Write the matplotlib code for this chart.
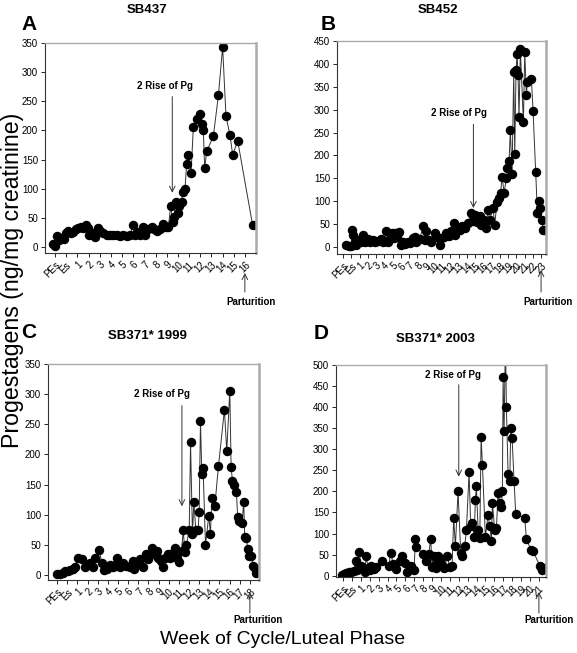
import matplotlib
matplotlib.use("Agg")
import matplotlib.pyplot as plt

plt.rcParams["font.family"] = ["Liberation Sans", "DejaVu Sans"]

# week positions (PEs = -1, Es = 0, week k = k) and progestagen values (ng/mg creatinine)
a_week = [-1.21, -1.0, -0.79, -0.61, -0.40, -0.19, -0.01, 0.19, 0.40, 0.64, 0.88, 1.09, 1.30, 1.54,
          1.78, 1.99, 2.07, 2.28, 2.58, 2.82, 3.03, 3.33, 3.63, 3.93, 4.22, 4.52, 4.82, 5.12, 5.42,
          5.72, 5.96, 6.16, 6.37, 6.61, 6.85, 7.06, 7.36, 7.66, 7.87, 8.10, 8.40, 8.70, 8.91, 9.15,
          9.36, 9.54, 9.66, 9.84, 9.99, 10.13, 10.34, 10.43, 10.64, 10.79, 10.94, 11.18, 11.39, 11.69,
          11.99, 12.13, 12.28, 12.40, 12.58, 13.18, 13.63, 14.01, 14.31, 14.67, 14.91, 15.36, 16.70]
a_val = [5, 2, 18, 12, 15, 14, 24, 28, 24, 26, 30, 32, 35, 32, 37, 32, 21, 24, 17, 32, 27, 24, 21,
         21, 20, 21, 18, 21, 18, 20, 37, 21, 26, 21, 35, 21, 30, 35, 30, 28, 30, 40, 35, 35, 70, 43,
         52, 78, 58, 70, 78, 95, 100, 143, 158, 127, 206, 220, 228, 211, 201, 135, 164, 190, 260,
         343, 224, 192, 158, 182, 37]

b_week = [-0.60, -0.31, 0.01, 0.13, 0.25, 0.41, 0.62, 0.90, 1.22, 1.42, 1.71, 2.03, 2.23, 2.64, 2.92,
          3.24, 3.57, 3.85, 4.05, 4.25, 4.45, 4.78, 4.94, 5.18, 5.34, 5.59, 5.79, 5.99, 6.27, 6.56,
          6.88, 7.16, 7.48, 7.69, 7.89, 8.29, 8.70, 8.90, 9.10, 9.38, 9.71, 10.11, 10.31, 10.72, 10.92,
          11.24, 11.53, 11.81, 12.13, 12.41, 12.62, 12.86, 13.14, 13.42, 13.75, 14.15, 14.47, 14.76,
          14.96, 15.28, 15.57, 15.77, 16.09, 16.29, 16.58, 16.78, 17.18, 17.38, 17.67, 17.91, 18.11,
          18.27, 18.52, 18.80, 18.92, 19.12, 19.28, 19.48, 19.69, 19.81, 19.97, 20.09, 20.21, 20.33,
          20.49, 20.86, 21.02, 21.22, 21.34, 21.83, 22.03, 22.35, 22.56, 22.72, 22.92, 23.12, 23.24,
          23.44]
b_val = [5, 3, 2, 38, 27, 12, 5, 16, 10, 27, 12, 17, 10, 16, 12, 14, 17, 12, 14, 36, 11, 22, 30, 20,
         30, 22, 33, 5, 12, 7, 12, 9, 20, 22, 11, 17, 45, 16, 36, 16, 12, 30, 22, 5, 20, 22, 30, 23,
         34, 52, 27, 41, 38, 45, 41, 52, 74, 56, 70, 54, 67, 49, 60, 41, 81, 60, 85, 49, 99, 107, 119,
         154, 119, 150, 172, 187, 255, 159, 382, 203, 386, 422, 375, 284, 433, 272, 426, 332, 361,
         368, 297, 163, 74, 101, 85, 60, 38, 38]

c_week = [-0.97, -0.70, -0.44, -0.21, 0.05, 0.28, 0.54, 0.77, 1.03, 1.43, 1.75, 1.98, 2.25, 2.51,
          2.74, 3.16, 3.39, 3.66, 3.95, 4.21, 4.54, 4.70, 4.93, 5.20, 5.46, 5.79, 6.18, 6.44, 6.61,
          6.90, 7.16, 7.49, 7.72, 7.98, 8.31, 8.54, 8.80, 8.97, 9.20, 9.39, 9.62, 9.95, 10.11, 10.38,
          10.61, 10.77, 11.03, 11.26, 11.43, 11.59, 11.75, 12.02, 12.15, 12.34, 12.48, 12.67, 12.90,
          13.00, 13.13, 13.26, 13.39, 13.62, 13.95, 14.11, 14.25, 14.54, 14.90, 15.49, 15.72, 16.02,
          16.15, 16.28, 16.44, 16.67, 16.80, 16.93, 17.23, 17.39, 17.49, 17.66, 17.79, 17.92, 18.15,
          18.31, 18.48, 18.64]
c_val = [2, 1, 3, 7, 6, 9, 10, 14, 28, 27, 13, 17, 20, 13, 28, 42, 20, 8, 10, 17, 14, 17, 29, 14,
         20, 15, 14, 23, 10, 20, 27, 14, 34, 27, 45, 34, 40, 28, 23, 14, 28, 34, 28, 36, 45, 28, 22,
         40, 74, 38, 50, 75, 220, 68, 121, 75, 75, 105, 255, 168, 177, 50, 98, 68, 127, 114, 180,
         274, 205, 306, 179, 156, 149, 137, 96, 90, 86, 121, 63, 61, 43, 32, 31, 15, 11, 4]

d_week = [-1.11, -0.89, -0.63, -0.33, -0.06, 0.20, 0.42, 0.61, 0.84, 0.99, 1.25, 1.43, 1.62, 1.81,
          2.00, 2.18, 2.48, 2.75, 3.38, 4.13, 4.36, 4.62, 4.99, 5.37, 5.63, 5.93, 6.23, 6.60, 6.98,
          7.13, 7.24, 7.99, 8.36, 8.63, 8.85, 9.00, 9.19, 9.37, 9.49, 9.67, 9.94, 10.12, 10.35, 10.72,
          10.99, 11.25, 11.43, 11.62, 11.92, 12.22, 12.41, 12.67, 12.86, 13.16, 13.34, 13.53, 13.72,
          13.87, 13.98, 14.17, 14.36, 14.51, 14.66, 14.99, 15.29, 15.48, 15.67, 15.78, 16.04, 16.23,
          16.42, 16.60, 16.79, 16.90, 16.98, 17.09, 17.24, 17.35, 17.54, 17.73, 17.84, 17.99, 18.21,
          18.40, 19.41, 19.60, 20.09, 20.35, 21.10, 21.36, 21.66]
d_val = [2, 5, 6, 9, 10, 12, 34, 13, 56, 22, 18, 10, 47, 18, 13, 22, 16, 21, 34, 22, 55, 28, 16,
         34, 46, 30, 10, 22, 13, 87, 68, 51, 36, 51, 88, 21, 47, 26, 18, 47, 38, 26, 18, 46, 20, 22,
         137, 70, 200, 55, 46, 70, 109, 246, 117, 125, 92, 180, 212, 109, 89, 329, 262, 92, 145, 117,
         83, 172, 109, 113, 197, 172, 164, 202, 472, 344, 560, 401, 242, 225, 350, 326, 225, 146,
         137, 87, 62, 58, 24, 14, 18]

panels = [
    dict(letter="A", title="SB437", week=a_week, val=a_val, last=16, ylim=(-10.3, 350), ystep=50,
         xlim=(-1.9, 17.0), rect=[0.0780, 0.6126, 0.3657, 0.3216],
         rise_x=9.5, rise=(258, 93), rise_txt=(8.85, 276),
         part=(-0.095, -0.186, -0.233, 0.6), title_xy=(0.255, 0.984), letter_xy=(0.038, 0.962)),
    dict(letter="B", title="SB452", week=b_week, val=b_val, last=23, ylim=(-15.3, 450), ystep=50,
         xlim=(-1.73, 23.6), rect=[0.5841, 0.6110, 0.3622, 0.3262],
         rise_x=14.8, rise=(268, 85), rise_txt=(13.1, 293),
         part=(-0.075, -0.178, -0.225, 0.85), title_xy=(0.759, 0.984), letter_xy=(0.555, 0.962)),
    dict(letter="C", title="SB371* 1999", week=c_week, val=c_val, last=18, ylim=(-8.3, 350), ystep=50,
         xlim=(-1.9, 18.9), rect=[0.0832, 0.1118, 0.3657, 0.3308],
         rise_x=11.3, rise=(281, 114), rise_txt=(9.3, 300),
         part=(-0.056, -0.153, -0.186, 0.8), title_xy=(0.255, 0.485), letter_xy=(0.036, 0.491)),
    dict(letter="D", title="SB371* 2003", week=d_week, val=d_val, last=21, ylim=(-3, 500), ystep=50,
         xlim=(-1.79, 21.8), rect=[0.5823, 0.1164, 0.3640, 0.3247],
         rise_x=12.0, rise=(453, 235), rise_txt=(11.4, 476),
         part=(-0.071, -0.170, -0.203, 1.1), title_xy=(0.754, 0.481), letter_xy=(0.543, 0.489)),
]

fig = plt.figure(figsize=(5.77, 6.53), dpi=100)

for p in panels:
    ax = fig.add_axes(p["rect"])
    ax.plot(p["week"], p["val"], color="#333333", lw=0.7, marker="o", ms=5.8,
            mfc="black", mec="black")
    ax.set_xlim(*p["xlim"])
    ax.set_ylim(*p["ylim"])
    ticks = list(range(-1, p["last"] + 1))
    labels = ["PEs", "Es"] + [str(k) for k in range(1, p["last"] + 1)]
    ax.set_xticks(ticks)
    ax.set_xticklabels(labels, rotation=45, ha="right", rotation_mode="anchor", fontsize=7)
    ax.set_yticks(range(0, int(p["ylim"][1]) + 1, p["ystep"]))
    ax.tick_params(axis="y", labelsize=7, length=3, width=0.6, pad=2)
    ax.tick_params(axis="x", length=3, width=0.6, pad=2)
    for s in ("left", "bottom"):
        ax.spines[s].set_linewidth(0.8)
        ax.spines[s].set_color("#333333")
    ax.spines["top"].set_color("#aaaaaa")
    ax.spines["top"].set_linewidth(1.0)
    ax.spines["right"].set_color("#aaaaaa")
    ax.spines["right"].set_linewidth(1.8)

    # second rise of progestagens
    ax.annotate("", xy=(p["rise_x"], p["rise"][1]), xytext=(p["rise_x"], p["rise"][0]),
                arrowprops=dict(arrowstyle="->", color="#333333", lw=0.7, shrinkA=0, shrinkB=0))
    ax.text(p["rise_txt"][0], p["rise_txt"][1], "2 Rise of Pg", fontsize=7, fontweight="bold",
            ha="center", va="center")

    # parturition marker below the axis
    head, tail, ty, dx = p["part"]
    ax.annotate("", xy=(p["last"], head), xytext=(p["last"], tail),
                xycoords=("data", "axes fraction"), textcoords=("data", "axes fraction"),
                arrowprops=dict(arrowstyle="->", color="#333333", lw=0.7, shrinkA=0, shrinkB=0),
                annotation_clip=False)
    ax.text(p["last"] + dx, ty, "Parturition", transform=ax.get_xaxis_transform(),
            fontsize=7, fontweight="bold", ha="center", va="center", clip_on=False)

    fig.text(*p["title_xy"], p["title"], fontsize=9.5, fontweight="bold", ha="center", va="center")
    fig.text(*p["letter_xy"], p["letter"], fontsize=15, fontweight="bold", ha="left", va="center")

fig.text(0.022, 0.571, "Progestagens (ng/mg creatinine)", rotation=90, fontsize=16.7,
         ha="center", va="center")
fig.text(0.49, 0.021, "Week of Cycle/Luteal Phase", fontsize=14, ha="center", va="center")

plt.savefig("out.png", dpi=100)
